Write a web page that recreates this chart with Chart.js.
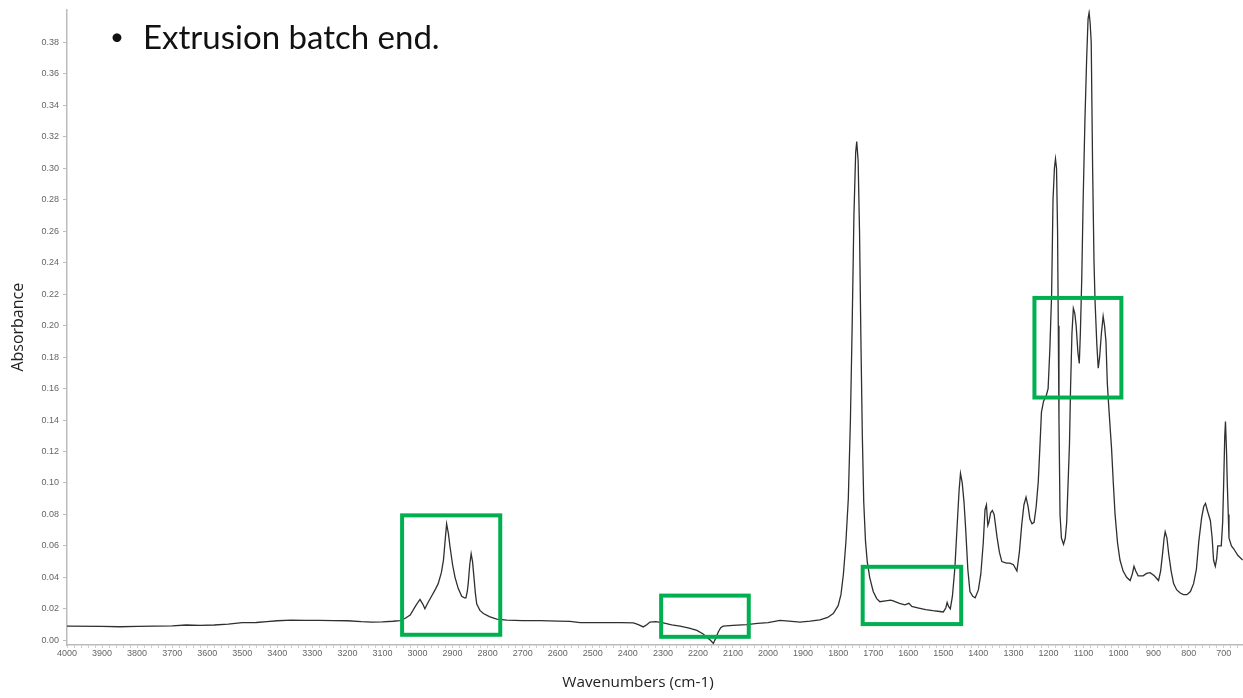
<!DOCTYPE html>
<html>
<head>
<meta charset="utf-8">
<title>Extrusion batch end</title>
<script src="https://cdn.jsdelivr.net/npm/chart.js@4.4.0/dist/chart.umd.min.js"></script>
<style>
  html, body { margin: 0; padding: 0; background: #fff; }
  #wrap { position: relative; width: 1243px; height: 698px; }
  .heading { position: absolute; font-family: Lato, "Open Sans", sans-serif; color: #111; line-height: 1; }
</style>
</head>
<body>
<div id="wrap">
  <canvas id="chart" width="1243" height="698"></canvas>
  <span class="heading" style="left:110px; top:24px; font-size:24px">•</span>
  <span class="heading" style="left:143px; top:20px; font-size:33px">Extrusion batch end.</span>
</div>
<script>
// spectrum (wavenumber cm-1 -> absorbance)
const wavenumbers = [
  4000, 3900, 3850, 3800, 3750, 3700, 3660, 3620, 3580, 3540, 3500, 3460, 3430, 3400, 3360, 3320, 3280, 3240, 3200, 3160,
  3130, 3100, 3070, 3050, 3035, 3021, 3005, 2993, 2985, 2979, 2970, 2960, 2950, 2941, 2932, 2926, 2921, 2917, 2912, 2907,
  2900, 2893, 2884, 2874, 2866, 2862, 2858, 2855, 2851, 2847, 2843, 2839, 2835, 2831, 2822, 2812, 2795, 2774, 2745, 2700,
  2650, 2600, 2565, 2536, 2480, 2420, 2384, 2370, 2356, 2345, 2337, 2320, 2299, 2275, 2251, 2225, 2203, 2185, 2175, 2165,
  2156, 2150, 2142, 2135, 2128, 2100, 2061, 2030, 2000, 1966, 1940, 1909, 1880, 1852, 1830, 1814, 1800, 1792, 1785, 1778,
  1771, 1765, 1760, 1755, 1750, 1747, 1743, 1739, 1735, 1731, 1727, 1722, 1717, 1710, 1700, 1690, 1681, 1665, 1650, 1643,
  1625, 1610, 1598, 1590, 1570, 1550, 1530, 1510, 1500, 1493, 1489, 1485, 1480, 1474, 1467, 1460, 1455, 1451, 1446, 1441,
  1436, 1430, 1424, 1416, 1409, 1400, 1393, 1386, 1381, 1377, 1373, 1370, 1365, 1360, 1355, 1347, 1340, 1333, 1320, 1310,
  1300, 1290, 1283, 1276, 1270, 1264, 1258, 1253, 1247, 1241, 1235, 1229, 1224, 1220, 1214, 1207, 1201, 1196, 1191, 1187,
  1183, 1180, 1177, 1174, 1172, 1170, 1167, 1163, 1157, 1152, 1148, 1144, 1140, 1137, 1133, 1129, 1125, 1121, 1116, 1112,
  1109, 1105, 1101, 1096, 1091, 1087, 1084, 1081, 1078, 1074, 1070, 1067, 1062, 1058, 1054, 1049, 1044, 1040, 1036, 1032,
  1029, 1024, 1020, 1015, 1010, 1003, 996, 987, 977, 967, 961, 956, 951, 944, 930, 920, 910, 898, 886, 880,
  874, 870, 867, 862, 857, 850, 843, 834, 824, 815, 805, 795, 786, 778, 771, 763, 757, 752, 746, 738,
  733, 729, 724, 720, 717, 712, 707, 703, 700, 697, 695, 692, 690, 687, 685, 678, 671, 660, 646
];
const absorbance = [
  0.0090, 0.0088, 0.0086, 0.0089, 0.0090, 0.0092, 0.0097, 0.0095, 0.0097, 0.0103, 0.0112, 0.0113, 0.0118, 0.0124, 0.0128, 0.0126, 0.0126, 0.0125, 0.0124, 0.0118,
  0.0115, 0.0117, 0.0121, 0.0125, 0.0140, 0.0160, 0.0220, 0.0260, 0.0230, 0.0200, 0.0240, 0.0280, 0.0320, 0.0360, 0.0430, 0.0510, 0.0640, 0.0740, 0.0680, 0.0590,
  0.0480, 0.0400, 0.0330, 0.0280, 0.0270, 0.0270, 0.0310, 0.0370, 0.0480, 0.0550, 0.0500, 0.0400, 0.0300, 0.0230, 0.0190, 0.0170, 0.0150, 0.0135, 0.0128, 0.0125,
  0.0125, 0.0122, 0.0120, 0.0112, 0.0112, 0.0112, 0.0110, 0.0100, 0.0085, 0.0100, 0.0116, 0.0118, 0.0110, 0.0098, 0.0090, 0.0078, 0.0063, 0.0040, 0.0020, 0.0002,
  -0.0020, 0.0010, 0.0053, 0.0080, 0.0090, 0.0095, 0.0100, 0.0108, 0.0112, 0.0127, 0.0122, 0.0116, 0.0122, 0.0130, 0.0145, 0.0170, 0.0220, 0.0290, 0.0420, 0.0620,
  0.0900, 0.1400, 0.2000, 0.2700, 0.3100, 0.3170, 0.3050, 0.2600, 0.1900, 0.1300, 0.0880, 0.0630, 0.0500, 0.0400, 0.0310, 0.0265, 0.0245, 0.0250, 0.0255, 0.0250,
  0.0235, 0.0225, 0.0235, 0.0215, 0.0205, 0.0195, 0.0188, 0.0183, 0.0180, 0.0205, 0.0240, 0.0215, 0.0200, 0.0280, 0.0460, 0.0750, 0.0950, 0.1060, 0.1000, 0.0880,
  0.0700, 0.0450, 0.0310, 0.0280, 0.0270, 0.0320, 0.0420, 0.0620, 0.0830, 0.0860, 0.0730, 0.0750, 0.0810, 0.0825, 0.0800, 0.0660, 0.0560, 0.0500, 0.0490, 0.0490,
  0.0480, 0.0440, 0.0560, 0.0740, 0.0860, 0.0910, 0.0850, 0.0770, 0.0740, 0.0750, 0.0850, 0.1010, 0.1250, 0.1450, 0.1520, 0.1550, 0.1600, 0.1850, 0.2200, 0.2800,
  0.3000, 0.3060, 0.3000, 0.2600, 0.2000, 0.1400, 0.0800, 0.0650, 0.0610, 0.0650, 0.0750, 0.1000, 0.1250, 0.1600, 0.1950, 0.2110, 0.2080, 0.2000, 0.1830, 0.1760,
  0.1950, 0.2300, 0.2800, 0.3300, 0.3700, 0.3950, 0.3990, 0.3920, 0.3800, 0.3000, 0.2400, 0.2150, 0.1880, 0.1730, 0.1800, 0.1950, 0.2060, 0.2000, 0.1900, 0.1630,
  0.1520, 0.1350, 0.1220, 0.1000, 0.0800, 0.0620, 0.0510, 0.0440, 0.0400, 0.0380, 0.0420, 0.0470, 0.0440, 0.0410, 0.0410, 0.0425, 0.0430, 0.0410, 0.0380, 0.0440,
  0.0560, 0.0650, 0.0690, 0.0650, 0.0550, 0.0440, 0.0360, 0.0320, 0.0300, 0.0290, 0.0290, 0.0310, 0.0360, 0.0450, 0.0630, 0.0780, 0.0850, 0.0870, 0.0820, 0.0760,
  0.0650, 0.0510, 0.0470, 0.0520, 0.0600, 0.0600, 0.0600, 0.0750, 0.1010, 0.1300, 0.1390, 0.1200, 0.1010, 0.0800, 0.0650, 0.0600, 0.0580, 0.0540, 0.0510
];

const xTickLabels = [4000, 3900, 3800, 3700, 3600, 3500, 3400, 3300, 3200, 3100, 3000, 2900, 2800, 2700, 2600, 2500, 2400,
  2300, 2200, 2100, 2000, 1900, 1800, 1700, 1600, 1500, 1400, 1300, 1200, 1100, 1000, 900, 800, 700];
const yTickLabels = [0.00, 0.02, 0.04, 0.06, 0.08, 0.10, 0.12, 0.14, 0.16, 0.18, 0.20, 0.22, 0.24, 0.26, 0.28, 0.30, 0.32, 0.34, 0.36, 0.38];

// highlighted regions: [wavenumber from, wavenumber to, absorbance low, absorbance high]
const boxFrom = [3044, 2305, 1730, 1240];
const boxTo   = [2764, 2055, 1449, 992];
const boxLow  = [0.0035, 0.0022, 0.0103, 0.1543];
const boxHigh = [0.0794, 0.0284, 0.0467, 0.2176];

const points = wavenumbers.map((w, i) => ({ x: w, y: absorbance[i] }));

const boxesPlugin = {
  id: 'boxes',
  afterDatasetsDraw(chart) {
    const c = chart.ctx;
    const xs = chart.scales.x, ys = chart.scales.y;
    c.save();
    c.strokeStyle = '#00b050';
    c.lineWidth = 4;
    boxFrom.forEach((f, i) => {
      const x1 = xs.getPixelForValue(f), x2 = xs.getPixelForValue(boxTo[i]);
      const y1 = ys.getPixelForValue(boxHigh[i]), y2 = ys.getPixelForValue(boxLow[i]);
      c.strokeRect(x1, y1, x2 - x1, y2 - y1);
    });
    c.restore();
  }
};

const xTitlePlugin = {
  id: 'xTitle',
  afterDraw(chart) {
    const c = chart.ctx;
    c.save();
    c.font = '15.3px "Open Sans", sans-serif';
    c.fillStyle = '#222';
    c.textAlign = 'center';
    c.textBaseline = 'middle';
    c.fillText('Wavenumbers (cm-1)', 638, 683);
    c.restore();
  }
};

new Chart(document.getElementById('chart'), {
  type: 'line',
  data: {
    datasets: [{
      data: points,
      borderColor: '#2f2f2f',
      borderWidth: 1.3,
      pointRadius: 0,
      tension: 0,
      fill: false
    }]
  },
  options: {
    responsive: false,
    animation: false,
    layout: { padding: 0 },
    plugins: {
      legend: { display: false },
      tooltip: { enabled: false }
    },
    scales: {
      x: {
        type: 'linear',
        reverse: true,
        min: 645,
        max: 4000,
        afterFit: s => { s.height = 53; },
        border: { color: '#bbb', width: 1.5 },
        grid: { drawOnChartArea: false, drawTicks: true, tickLength: 3, color: '#ccc' },
        ticks: {
          stepSize: 20,
          includeBounds: false,
          autoSkip: false,
          maxRotation: 0,
          padding: 0,
          color: '#666',
          font: { family: 'Liberation Sans, Arial', size: 9 },
          callback: v => xTickLabels.includes(v) ? String(v) : ''
        }
      },
      y: {
        min: -0.003,
        max: 0.401,
        afterFit: s => { s.width = 67; },
        afterBuildTicks: s => { s.ticks = yTickLabels.map(v => ({ value: v })); },
        border: { color: '#bbb', width: 1.5 },
        grid: { drawOnChartArea: false, drawTicks: true, tickLength: 4, color: '#bbb' },
        title: {
          display: true,
          text: 'Absorbance',
          color: '#222',
          font: { family: 'Open Sans', size: 16 },
          padding: { top: 9, bottom: 0 }
        },
        ticks: {
          padding: 4,
          color: '#666',
          font: { family: 'Liberation Sans, Arial', size: 9 },
          callback: v => v.toFixed(2)
        }
      }
    }
  },
  plugins: [boxesPlugin, xTitlePlugin]
});
</script>
</body>
</html>
